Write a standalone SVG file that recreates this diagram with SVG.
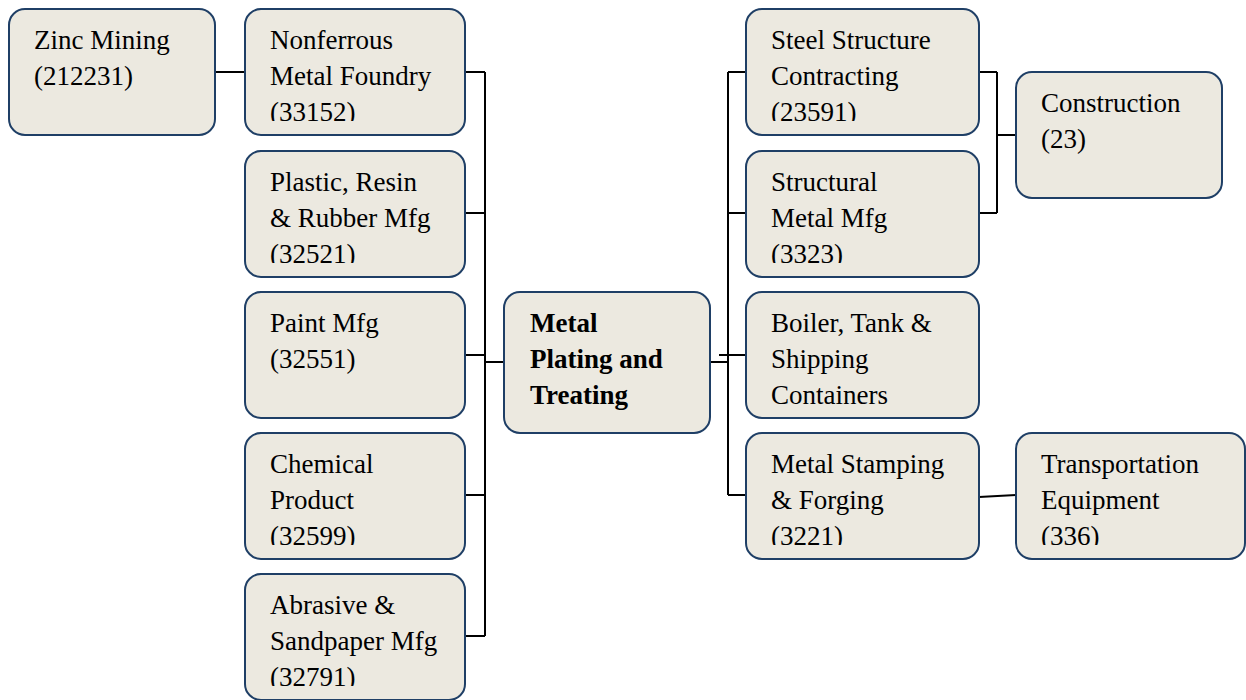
<svg xmlns="http://www.w3.org/2000/svg" width="1246" height="700" viewBox="0 0 1246 700">
<style>
.box{fill:#ECE9E0;stroke:#1F3F66;stroke-width:2}
.t{font-family:"Liberation Serif","Times New Roman",serif;font-size:27px;fill:#000}
.b{font-weight:bold}
.c{fill:none;stroke:#000;stroke-width:2}
</style>
<defs>
<clipPath id="c1" clipPathUnits="userSpaceOnUse"><rect x="0" y="9" width="1246" height="112"/></clipPath>
<clipPath id="c2" clipPathUnits="userSpaceOnUse"><rect x="0" y="151" width="1246" height="112"/></clipPath>
<clipPath id="c3" clipPathUnits="userSpaceOnUse"><rect x="0" y="292" width="1246" height="116"/></clipPath>
<clipPath id="c4" clipPathUnits="userSpaceOnUse"><rect x="0" y="433" width="1246" height="112"/></clipPath>
<clipPath id="c5" clipPathUnits="userSpaceOnUse"><rect x="0" y="574" width="1246" height="112"/></clipPath>
</defs>
<rect width="1246" height="700" fill="#fff"/>
<g id="connectors" class="c">
<path d="M215 72H245"/>
<path d="M465 72H485M465 213H485M465 355H485M465 495H485M465 636H485M485 72V636M485 362H504"/>
<path d="M710 362H728M728 72V495M728 72H746M728 213H746M719 355H746M728 495H746"/>
<path d="M979 72H997M979 213H997M997 72V213M997 135H1016"/>
<path d="M979 497L1016 495"/>
</g>
<g id="zinc"><rect class="box" x="9" y="9" width="206" height="126" rx="16"/>
<g clip-path="url(#c1)" class="t"><text x="34" y="49">Zinc Mining</text><text x="34" y="85">(212231)</text></g></g>
<g id="nonferrous"><rect class="box" x="245" y="9" width="220" height="126" rx="16"/>
<g clip-path="url(#c1)" class="t"><text x="270" y="49">Nonferrous</text><text x="270" y="85">Metal Foundry</text><text x="270" y="121">(33152)</text></g></g>
<g id="plastic"><rect class="box" x="245" y="151" width="220" height="126" rx="16"/>
<g clip-path="url(#c2)" class="t"><text x="270" y="191">Plastic, Resin</text><text x="270" y="227">&amp; Rubber Mfg</text><text x="270" y="263">(32521)</text></g></g>
<g id="paint"><rect class="box" x="245" y="292" width="220" height="126" rx="16"/>
<g clip-path="url(#c3)" class="t"><text x="270" y="332">Paint Mfg</text><text x="270" y="368">(32551)</text></g></g>
<g id="chemical"><rect class="box" x="245" y="433" width="220" height="126" rx="16"/>
<g clip-path="url(#c4)" class="t"><text x="270" y="473">Chemical</text><text x="270" y="509">Product</text><text x="270" y="545">(32599)</text></g></g>
<g id="abrasive"><rect class="box" x="245" y="574" width="220" height="126" rx="16"/>
<g clip-path="url(#c5)" class="t"><text x="270" y="614">Abrasive &amp;</text><text x="270" y="650">Sandpaper Mfg</text><text x="270" y="686">(32791)</text></g></g>
<g id="metal-plating"><rect class="box" x="504" y="292" width="206" height="141" rx="16"/>
<g class="t b"><text x="530" y="332">Metal</text><text x="530" y="368">Plating and</text><text x="530" y="404">Treating</text></g></g>
<g id="steel"><rect class="box" x="746" y="9" width="233" height="126" rx="16"/>
<g clip-path="url(#c1)" class="t"><text x="771" y="49">Steel Structure</text><text x="771" y="85">Contracting</text><text x="771" y="121">(23591)</text></g></g>
<g id="structural"><rect class="box" x="746" y="151" width="233" height="126" rx="16"/>
<g clip-path="url(#c2)" class="t"><text x="771" y="191">Structural</text><text x="771" y="227">Metal Mfg</text><text x="771" y="263">(3323)</text></g></g>
<g id="boiler"><rect class="box" x="746" y="292" width="233" height="126" rx="16"/>
<g clip-path="url(#c3)" class="t"><text x="771" y="332">Boiler, Tank &amp;</text><text x="771" y="368">Shipping</text><text x="771" y="404">Containers</text></g></g>
<g id="stamping"><rect class="box" x="746" y="433" width="233" height="126" rx="16"/>
<g clip-path="url(#c4)" class="t"><text x="771" y="473">Metal Stamping</text><text x="771" y="509">&amp; Forging</text><text x="771" y="545">(3221)</text></g></g>
<g id="construction"><rect class="box" x="1016" y="72" width="206" height="126" rx="16"/>
<g class="t"><text x="1041" y="112">Construction</text><text x="1041" y="148">(23)</text></g></g>
<g id="transportation"><rect class="box" x="1016" y="433" width="229" height="126" rx="16"/>
<g clip-path="url(#c4)" class="t"><text x="1041" y="473">Transportation</text><text x="1041" y="509">Equipment</text><text x="1041" y="545">(336)</text></g></g>
</svg>
